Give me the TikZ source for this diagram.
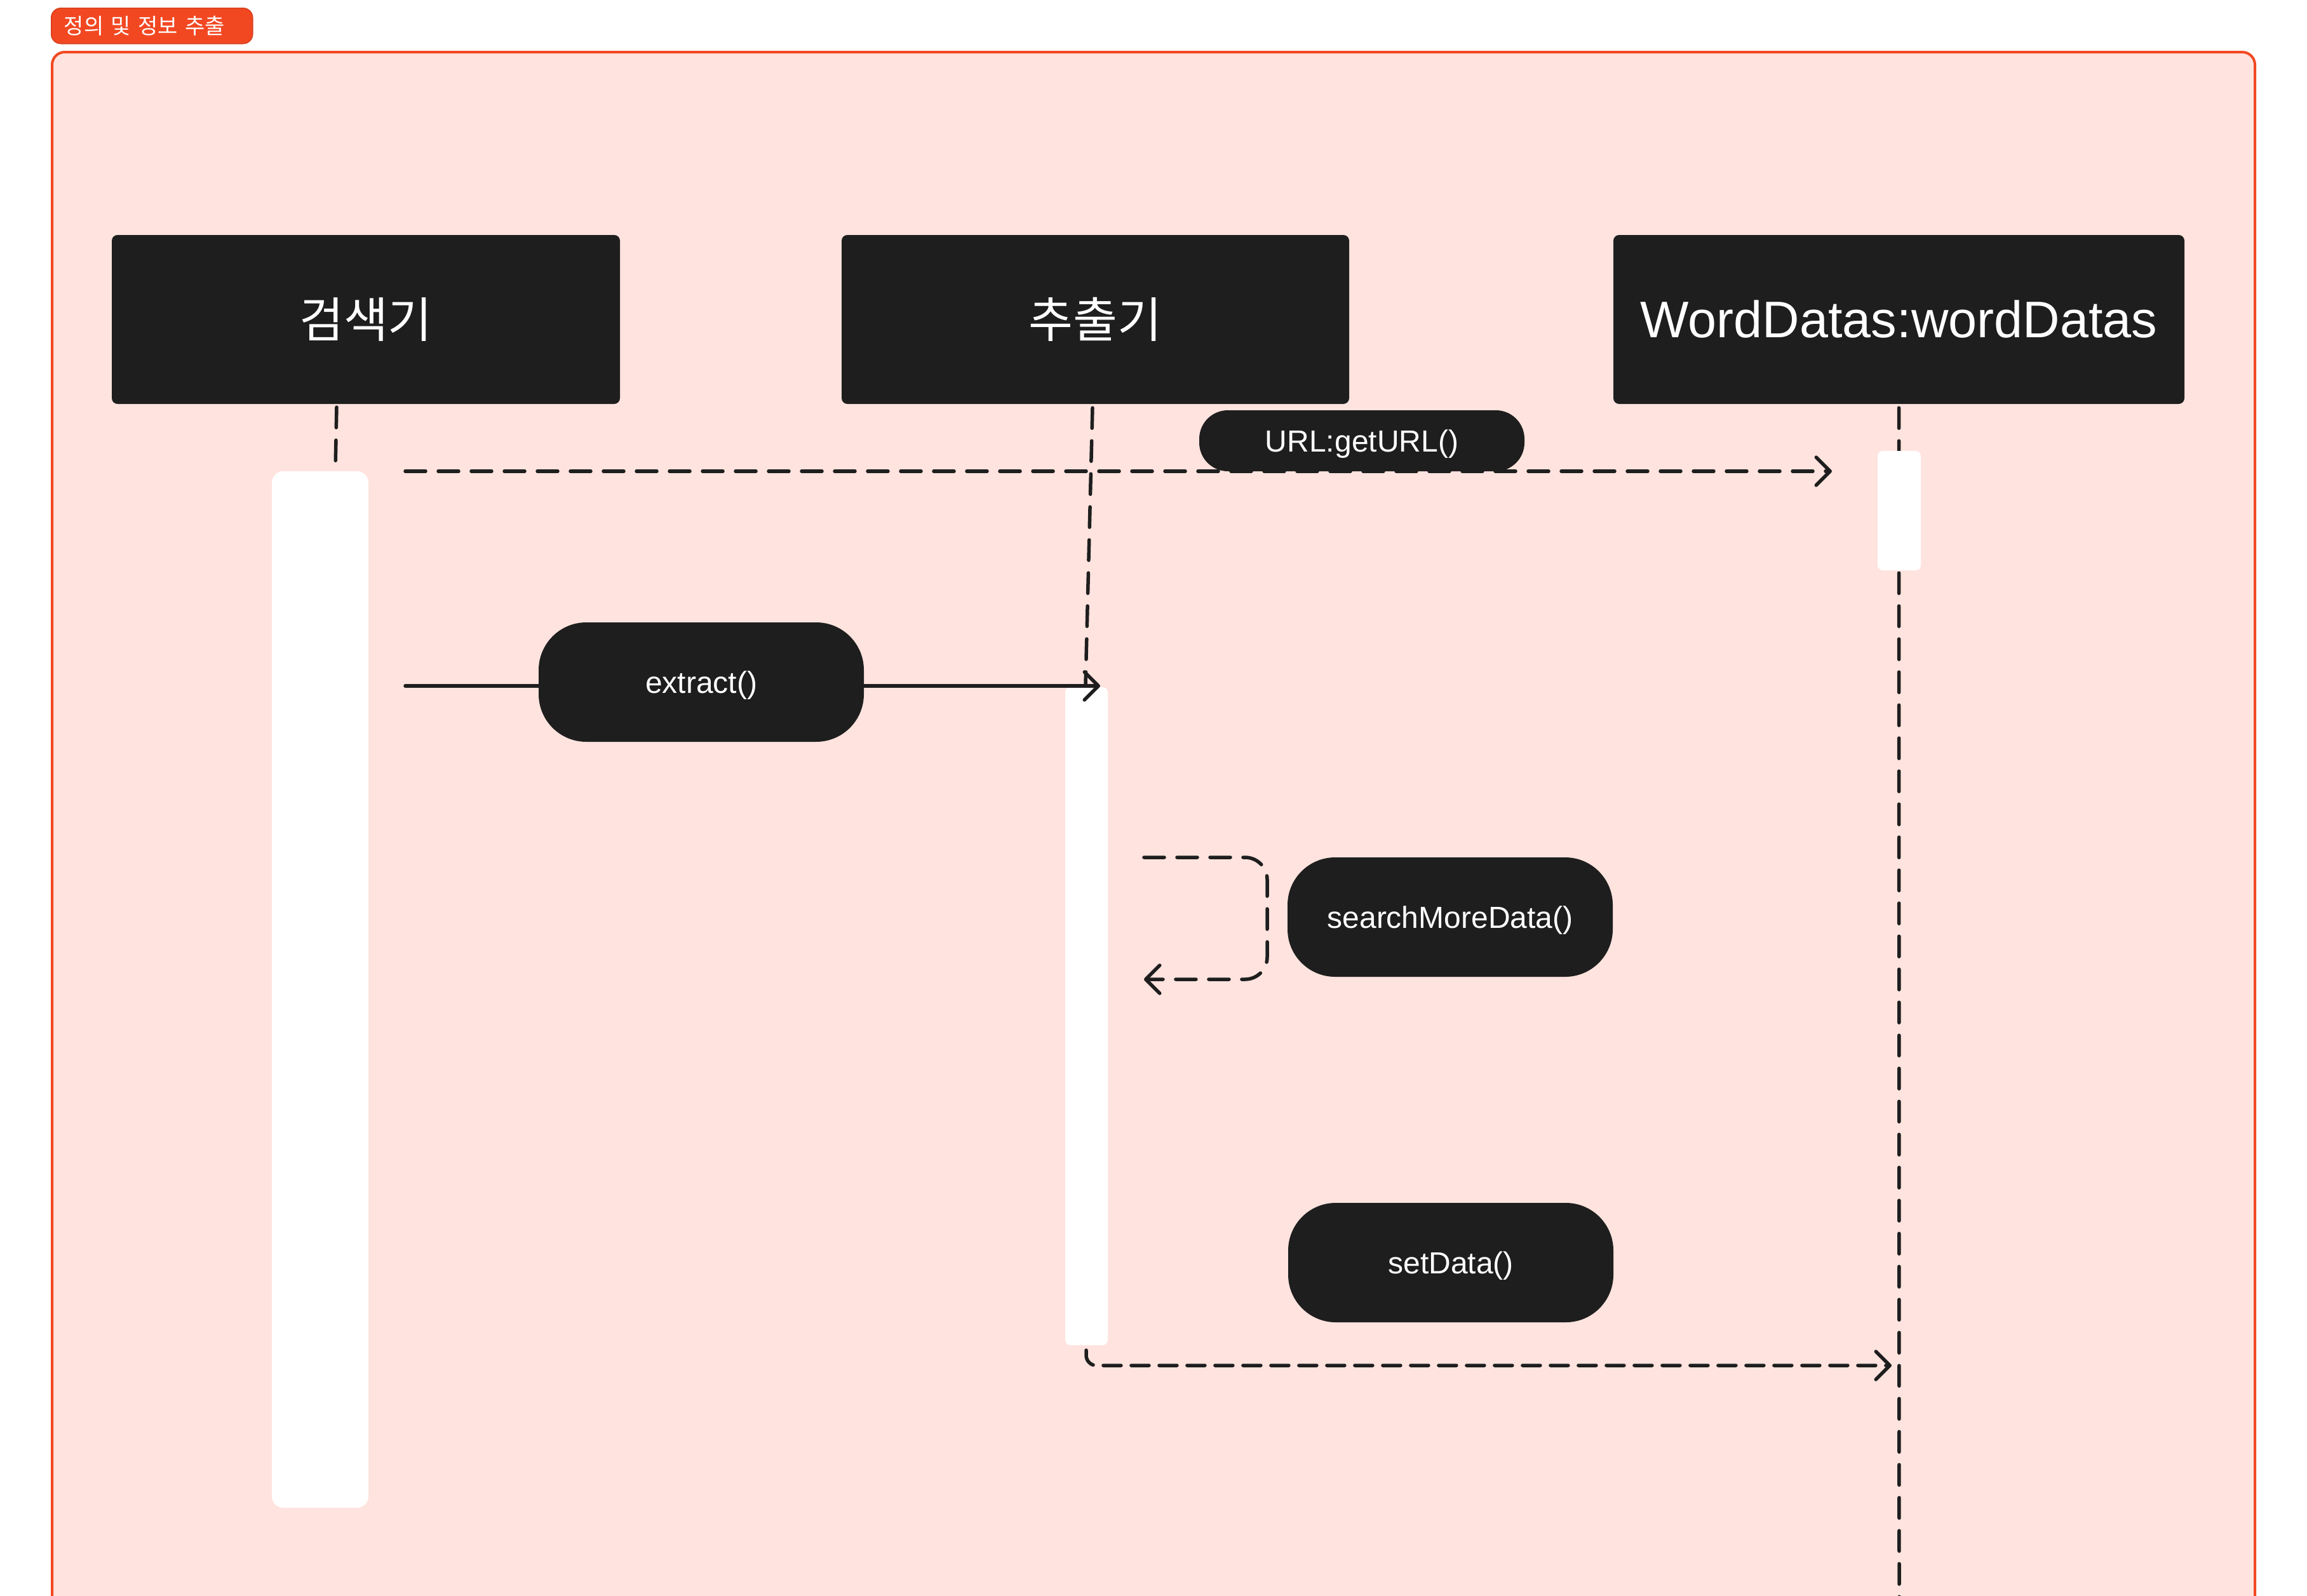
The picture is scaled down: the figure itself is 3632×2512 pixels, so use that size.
\documentclass[tikz,border=0pt]{standalone}
\usepackage{fontspec}
\setmainfont{Liberation Sans}
\newfontfamily\krfont{Noto Sans CJK KR}
\usetikzlibrary{arrows.meta}
\definecolor{ink}{HTML}{1E1E1E}
\definecolor{sec}{HTML}{F24822}
\definecolor{secfill}{HTML}{FFE3DE}
\begin{document}
\begin{tikzpicture}[x=1pt,y=-1pt,
  head/.style={fill=ink, rounded corners=9pt, inner sep=0pt, text=white, minimum height=266pt},
  pill/.style={fill=ink, rounded corners=75pt, inner sep=0pt, minimum width=512pt, minimum height=188pt, text=white, text depth=0pt, font=\fontsize{48}{56}\selectfont},
  actbar/.style={fill=white, inner sep=0pt},
  life/.style={draw=ink, line width=5.5pt, line cap=round, dash pattern=on 32pt off 20pt},
  msg/.style={draw=ink, line width=5.5pt, line cap=round, line join=round},
  tipb/.style={-{Straight Barb[length=22pt,width=44pt,round]}}
]
\useasboundingbox (0,0) rectangle (3632,2512);
\fill[white] (0,0) rectangle (3632,2512);
% section frame
\draw[draw=sec, fill=secfill, line width=4pt, rounded corners=20pt] (82,82) rectangle (3550,2650);
\node[fill=sec, draw=sec!88!black, line width=1.5pt, rounded corners=15pt, anchor=north west,
      minimum height=56pt, text width=277pt, inner xsep=20pt, inner ysep=0pt, align=left,
      text=white, font=\krfont\fontsize{34}{38}\selectfont] (tag) at (80,12) {정의 및 정보 추출};
% heads
\node[head, minimum width=800pt, font=\krfont\fontsize{76}{80}\selectfont] (h1) at (576,503) {검색기};
\node[head, minimum width=799pt, font=\krfont\fontsize{76}{80}\selectfont] (h2) at (1724.5,503) {추출기};
\node[head, minimum width=899pt, font=\fontsize{81}{90}\selectfont] (h3) at (2989.5,503) {WordDatas:wordDatas};
% lifeline 3 (behind its activation)
\coordinate (l3e) at (2990,2600);
\draw[life] ([yshift=-6pt]h3.south) -- (l3e);
% activations
\node[actbar, rounded corners=18pt, minimum width=152pt, minimum height=1632pt] (a1) at (504,1558) {};
\node[actbar, rounded corners=8pt, minimum width=67pt, minimum height=1036pt] (a2) at (1710.5,1600) {};
\node[actbar, rounded corners=8pt, minimum width=68pt, minimum height=188pt] (a3) at (2990,804) {};
% lifelines 1, 2
\draw[life] ([xshift=-46pt,yshift=-5pt]h1.south) -- ([xshift=24pt,yshift=5pt]a1.north);
\draw[life] ([xshift=-4.5pt,yshift=-6pt]h2.south) -- ([xshift=-1.5pt,yshift=5pt]a2.north);
% message 1: URL:getURL()
\coordinate (m1s) at (638,742);
\coordinate (m1e) at (2884,742);
\node[pill, minimum height=96pt, rounded corners=45pt] (lbl1) at (2144,694) {URL:getURL()};
\draw[msg, dash pattern=on 32pt off 20pt, tipb] (m1s) -- (m1e);
% message 2: extract()
\coordinate (m2s) at (638,1080);
\coordinate (m2e) at (1732,1080);
\draw[msg, tipb] (m2s) -- (m2e);
\node[pill] (lbl2) at (1104,1074) {extract()};
% message 3: self call
\coordinate (m3s) at (1801,1350);
\coordinate (m3c) at (1995,1446);
\coordinate (m3e) at (1801,1542);
\draw[msg, dash pattern=on 32pt off 20pt, tipb, rounded corners=35pt] (m3s) -- (m3s -| m3c) -- (m3e -| m3c) -- (m3e);
\node[pill] (lbl3) at (2283,1444) {searchMoreData()};
% message 4: setData()
\node[pill] (lbl4) at (2284,1988) {setData()};
\coordinate (m4s) at (1710,2126);
\coordinate (m4e) at (2978,2150);
\draw[msg, dash pattern=on 28pt off 16pt, tipb, rounded corners=16pt] (m4s) -- (m4s |- m4e) -- (m4e);
\end{tikzpicture}
\end{document}
